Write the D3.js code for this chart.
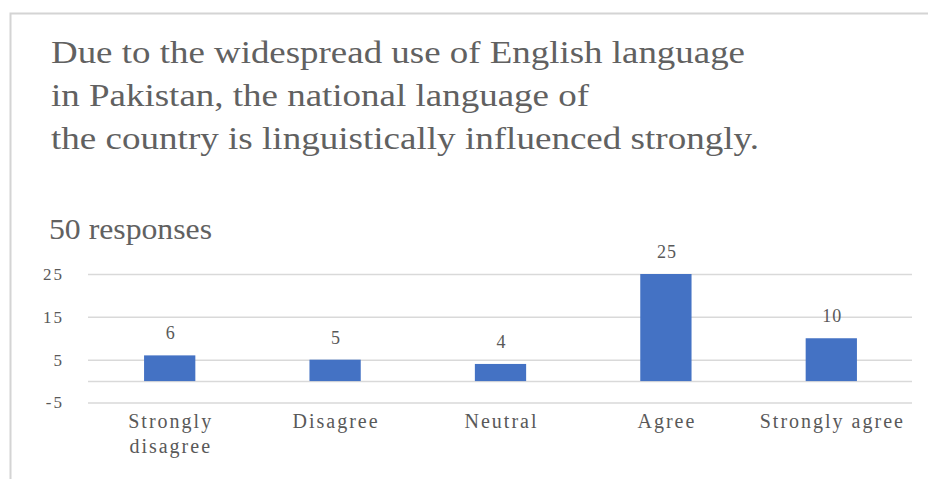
<!DOCTYPE html>
<html>
<head>
<meta charset="utf-8">
<script src="https://cdn.jsdelivr.net/npm/d3@7"></script>
<style>
  body { margin: 0; background: #fff; }
  text { font-family: "Liberation Serif", "Times New Roman", serif; fill: #595959; }
</style>
</head>
<body>
<div id="plot_area"></div>
<script>
// data
var categories = ["Strongly disagree", "Disagree", "Neutral", "Agree", "Strongly agree"];
var values = [6, 5, 4, 25, 10];
var yTicks = [-5, 5, 15, 25];
var titleLines = [
  "Due to the widespread use of English language",
  "in Pakistan, the national language of",
  "the country is linguistically influenced strongly."
];
var subtitle = "50 responses";

var width = 928, height = 479;

var svg = d3.select("#plot_area")
  .append("svg")
  .attr("width", width)
  .attr("height", height);

// frame of the chart box (only top + left edge visible)
svg.append("path")
  .attr("d", "M10.5,479 V13.5 H928")
  .attr("fill", "none")
  .attr("stroke", "#d4d4d4")
  .attr("stroke-width", 2);

// title
var titleLen = [694, 538, 708];
svg.append("g").selectAll("text")
  .data(titleLines)
  .enter().append("text")
  .attr("x", 51)
  .attr("y", function(d, i) { return 63 + i * 43; })
  .attr("font-size", 32)
  .style("fill", "#616161")
  .attr("textLength", function(d, i) { return titleLen[i]; })
  .attr("lengthAdjust", "spacingAndGlyphs")
  .text(function(d) { return d; });

svg.append("text")
  .attr("x", 49)
  .attr("y", 239)
  .attr("font-size", 30)
  .style("fill", "#616161")
  .attr("textLength", 163)
  .attr("lengthAdjust", "spacingAndGlyphs")
  .text(subtitle);

// scales
var x = d3.scaleBand()
  .domain(categories)
  .range([87, 914])
  .paddingInner(0.69)
  .paddingOuter(0.345);

var y = d3.scaleLinear()
  .domain([-5, 25])
  .range([402.5, 274]);

// gridlines (values ticks + zero baseline)
var g = svg.append("g");
g.append("g")
  .attr("transform", "translate(88,0)")
  .call(d3.axisLeft(y).tickValues(yTicks.concat([0])).tickSize(-(912 - 88)).tickFormat(""))
  .call(function(a) { a.select(".domain").remove(); })
  .selectAll(".tick line")
  .attr("stroke", "#d9d9d9")
  .attr("stroke-width", 1.5);

// tick labels
g.selectAll(".ylab")
  .data(yTicks)
  .enter().append("text")
  .attr("class", "ylab")
  .attr("x", 64)
  .attr("y", function(d) { return y(d); })
  .attr("dy", "0.35em")
  .attr("text-anchor", "end")
  .attr("font-size", 17)
  .attr("letter-spacing", 2)
  .text(function(d) { return d; });

// bars
g.selectAll("rect")
  .data(values)
  .enter().append("rect")
  .attr("x", function(d, i) { return x(categories[i]); })
  .attr("width", x.bandwidth())
  .attr("y", function(d) { return y(d); })
  .attr("height", function(d) { return y(0) - y(d); })
  .attr("fill", "#4472c4");

// value labels
g.selectAll(".vlab")
  .data(values)
  .enter().append("text")
  .attr("class", "vlab")
  .attr("x", function(d, i) { return x(categories[i]) + x.bandwidth() / 2 + 1; })
  .attr("y", function(d) { return y(d) - 16; })
  .attr("text-anchor", "middle")
  .attr("font-size", 18)
  .attr("letter-spacing", 1)
  .text(function(d) { return d; });

// category labels, wrap "Strongly disagree" to two lines like the original
var catLines = function(c) { return c === "Strongly disagree" ? ["Strongly", "disagree"] : [c]; };
var cat = g.selectAll(".clab")
  .data(categories)
  .enter().append("text")
  .attr("class", "clab")
  .attr("text-anchor", "middle")
  .attr("font-size", 20)
  .attr("letter-spacing", 2);
cat.selectAll("tspan")
  .data(function(c) { return catLines(c).map(function(t) { return {t: t, c: c}; }); })
  .enter().append("tspan")
  .attr("x", function(d) { return x(d.c) + x.bandwidth() / 2 + 1; })
  .attr("y", function(d, i) { return 428 + i * 25; })
  .text(function(d) { return d.t; });
</script>
</body>
</html>
